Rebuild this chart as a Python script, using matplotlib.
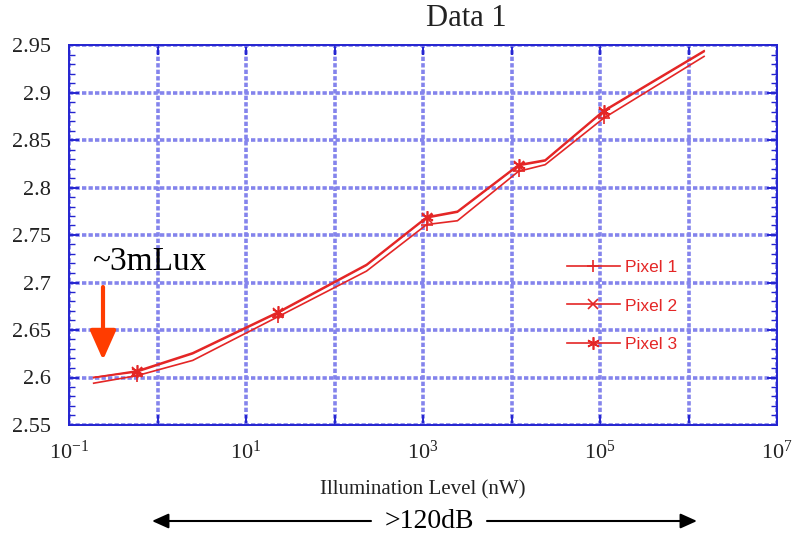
import matplotlib
matplotlib.use("Agg")
import matplotlib.pyplot as plt
from matplotlib.ticker import FixedLocator, FixedFormatter, NullLocator, MultipleLocator

# illumination levels (nW) and output voltage per pixel
illum = [0.19, 0.59, 2.5, 23, 230, 1100, 2450, 12000, 24000, 110000, 1.5e6]
pixel1 = [2.594, 2.602, 2.618, 2.664, 2.712, 2.761, 2.765, 2.817, 2.824, 2.873, 2.938]
pixel2 = [2.600, 2.606, 2.625, 2.668, 2.718, 2.768, 2.774, 2.823, 2.828, 2.880, 2.943]
pixel3 = [2.600, 2.607, 2.626, 2.669, 2.719, 2.769, 2.775, 2.824, 2.829, 2.881, 2.944]
marker_idx = [1, 3, 5, 7, 9]

x_ticks = [1e-1, 1e0, 1e1, 1e2, 1e3, 1e4, 1e5, 1e6, 1e7]
x_labels = ["$10^{-1}$", "", "$10^{1}$", "", "$10^{3}$", "", "$10^{5}$", "", "$10^{7}$"]
y_ticks = [2.55, 2.6, 2.65, 2.7, 2.75, 2.8, 2.85, 2.9, 2.95]
y_labels = ["2.55", "2.6", "2.65", "2.7", "2.75", "2.8", "2.85", "2.9", "2.95"]

plt.rcParams["font.family"] = ["Liberation Serif", "DejaVu Serif"]
plt.rcParams["mathtext.fontset"] = "custom"
plt.rcParams["mathtext.rm"] = "Liberation Serif"
plt.rcParams["mathtext.it"] = "Liberation Serif:italic"

red = "#e42626"
blue = "#2424d0"
grid_blue = "#8484ec"

fig = plt.figure(figsize=(7.92, 5.36), dpi=100)
ax = fig.add_axes([69 / 792, 111 / 536, 708 / 792, 380 / 536])

ax.plot(illum, pixel1, color=red, lw=1.2, marker="+", ms=9, mew=1.2,
        markevery=marker_idx, label="Pixel 1")
ax.plot(illum, pixel2, color=red, lw=1.2, marker="x", ms=7, mew=1.2,
        markevery=marker_idx, label="Pixel 2")
ax.plot(illum, pixel3, color=red, lw=1.2, marker=(6, 2, 0), ms=9, mew=1.2,
        markevery=marker_idx, label="Pixel 3")

ax.set_xscale("log")
ax.set_xlim(1e-1, 1e7)
ax.set_ylim(2.55, 2.95)
ax.xaxis.set_major_locator(FixedLocator(x_ticks))
ax.xaxis.set_major_formatter(FixedFormatter(x_labels))
ax.xaxis.set_minor_locator(NullLocator())
ax.yaxis.set_major_locator(FixedLocator(y_ticks))
ax.yaxis.set_major_formatter(FixedFormatter(y_labels))
ax.yaxis.set_minor_locator(MultipleLocator(0.01))

ax.grid(True, which="major", color=grid_blue, lw=2.6, ls=(0, (1.2, 0.6)))
ax.set_axisbelow(True)
for s in ax.spines.values():
    s.set_color(blue)
    s.set_linewidth(1.4)

ax.tick_params(which="both", direction="in", colors=blue, top=True, right=True,
               labelcolor="#222222")
ax.tick_params(which="major", length=7, width=1.4, labelsize=16)
ax.tick_params(which="minor", length=4, width=1.0)
ax.tick_params(axis="y", pad=13)
ax.tick_params(axis="x", pad=11)

ax.set_xlabel("Illumination Level (nW)", fontsize=15, labelpad=12, color="#222222")
fig.text(466 / 792, 1 - 19 / 536, "Data 1", fontsize=22, ha="center", va="center",
         color="#222222")

leg = ax.legend(loc="center left", bbox_to_anchor=((567 - 69) / 708, (425 - 306) / 380),
                frameon=False, borderaxespad=0, borderpad=0, handlelength=3.05,
                handletextpad=0.3, labelspacing=1.35, numpoints=1,
                prop={"family": "Liberation Sans", "size": 12.5})
for t in leg.get_texts():
    t.set_color(red)

# ~3mLux annotation
fig.text(92 / 792, 1 - 262 / 536, "~3mLux", fontsize=24, ha="left", va="center")
ax.annotate("", xy=(103, 536 - 360), xytext=(103, 536 - 287), xycoords="figure pixels",
            textcoords="figure pixels",
            arrowprops=dict(arrowstyle="-|>,head_length=0.9,head_width=0.4",
                            color="#ff3c00", lw=3, mutation_scale=20, shrinkA=0, shrinkB=0))

# dynamic range arrows
ax.annotate("", xy=(152, 536 - 521), xytext=(371, 536 - 521), xycoords="figure pixels",
            textcoords="figure pixels",
            arrowprops=dict(arrowstyle="-|>,head_length=1.0,head_width=0.45",
                            color="black", lw=1.5, mutation_scale=10, shrinkA=0, shrinkB=0))
ax.annotate("", xy=(697, 536 - 521), xytext=(487, 536 - 521), xycoords="figure pixels",
            textcoords="figure pixels",
            arrowprops=dict(arrowstyle="-|>,head_length=1.0,head_width=0.45",
                            color="black", lw=1.5, mutation_scale=10, shrinkA=0, shrinkB=0))
fig.text(429 / 792, 1 - 521 / 536, ">120dB", fontsize=20, ha="center", va="center")

fig.savefig("out.png", dpi=100)
